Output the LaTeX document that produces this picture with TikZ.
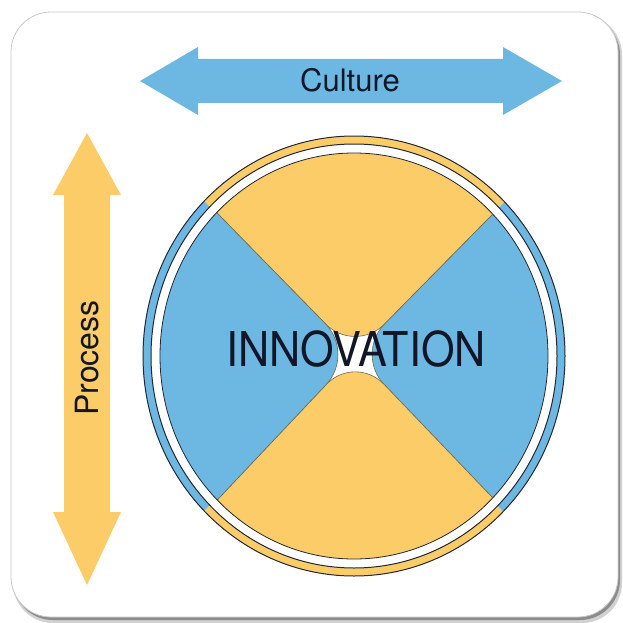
\documentclass[tikz,border=0pt]{standalone}
\usepackage{fontspec}
\setmainfont{TeX Gyre Heros}
\definecolor{cblue}{RGB}{108,184,226}
\definecolor{cyel}{RGB}{252,204,104}
\definecolor{ctext}{RGB}{18,22,38}
\definecolor{cline}{RGB}{36,40,52}
\definecolor{cedge}{RGB}{110,108,80}
\tikzset{
  ringline/.style={draw=cline, line width=1pt},
  sector/.style={draw=cedge, line width=0.6pt, rounded corners=42pt},
  labeltext/.style={text=ctext, inner sep=0pt},
}
\begin{document}
\begin{tikzpicture}[x=1pt,y=-1pt]
\useasboundingbox (0,0) rectangle (622,623);
% frame with shadow
\fill[black!18, rounded corners=40pt] (13,15) rectangle (622,623);
\fill[black!45, rounded corners=40pt] (13,15) rectangle (620,620);
\fill[white, draw=black!22, line width=0.8pt, rounded corners=40pt] (11,12) rectangle (618,617);

% Culture arrow
\fill[cblue] (140,81) -- (198,47) -- (198,59) -- (503,59) -- (503,47) -- (562,81)
  -- (503,115) -- (503,103) -- (198,103) -- (198,115) -- cycle;
\node[labeltext, font=\fontsize{31}{31}\selectfont] (culture) at (350,80) {Culture};

% Process arrow
\fill[cyel] (87,133) -- (121,195) -- (110,195) -- (110,512) -- (121,512) -- (87,585)
  -- (53,512) -- (64,512) -- (64,195) -- (53,195) -- cycle;
\node[labeltext, rotate=90, font=\fontsize{32}{32}\selectfont] (process) at (87,358) {Process};

% outer ring
\coordinate (c) at (354,356);
\fill[cblue, even odd rule] (c) ellipse [x radius=211, y radius=220]
  (c) ellipse [x radius=203, y radius=212];
\begin{scope}
  \clip (c) -- (59,51) -- (649,54) -- cycle;
  \fill[cyel, even odd rule] (c) ellipse [x radius=211, y radius=220]
    (c) ellipse [x radius=203, y radius=212];
\end{scope}
\begin{scope}
  \clip (c) -- (59,661) -- (649,664) -- cycle;
  \fill[cyel, even odd rule] (c) ellipse [x radius=211, y radius=220]
    (c) ellipse [x radius=203, y radius=212];
\end{scope}
\draw[ringline] (c) ellipse [x radius=211, y radius=220];
\draw[ringline] (c) ellipse [x radius=203, y radius=212];

% inner disk with four sectors
\fill[white] (c) ellipse [x radius=194, y radius=203];
\begin{scope}
  \clip (c) ellipse [x radius=194, y radius=203];
  \coordinate (apex) at (355,354);
  \coordinate (tl) at (17.5,9);
  \coordinate (tr) at (692.5,11.5);
  \coordinate (bl) at (17.5,711.5);
  \coordinate (br) at (692.5,706.5);
  \filldraw[sector, fill=cyel] (tl) -- (apex) -- (tr) -- cycle;
  \filldraw[sector, fill=cblue] (tr) -- (apex) -- (br) -- cycle;
  \filldraw[sector, fill=cyel] (br) -- (apex) -- (bl) -- cycle;
  \filldraw[sector, fill=cblue] (bl) -- (apex) -- (tl) -- cycle;
\end{scope}
\draw[ringline, line width=0.8pt] (c) ellipse [x radius=194, y radius=203];

\node[labeltext, xscale=0.9, font=\fontsize{48}{48}\selectfont] (innov) at (356,349) {INNOVATION};
\end{tikzpicture}
\end{document}
